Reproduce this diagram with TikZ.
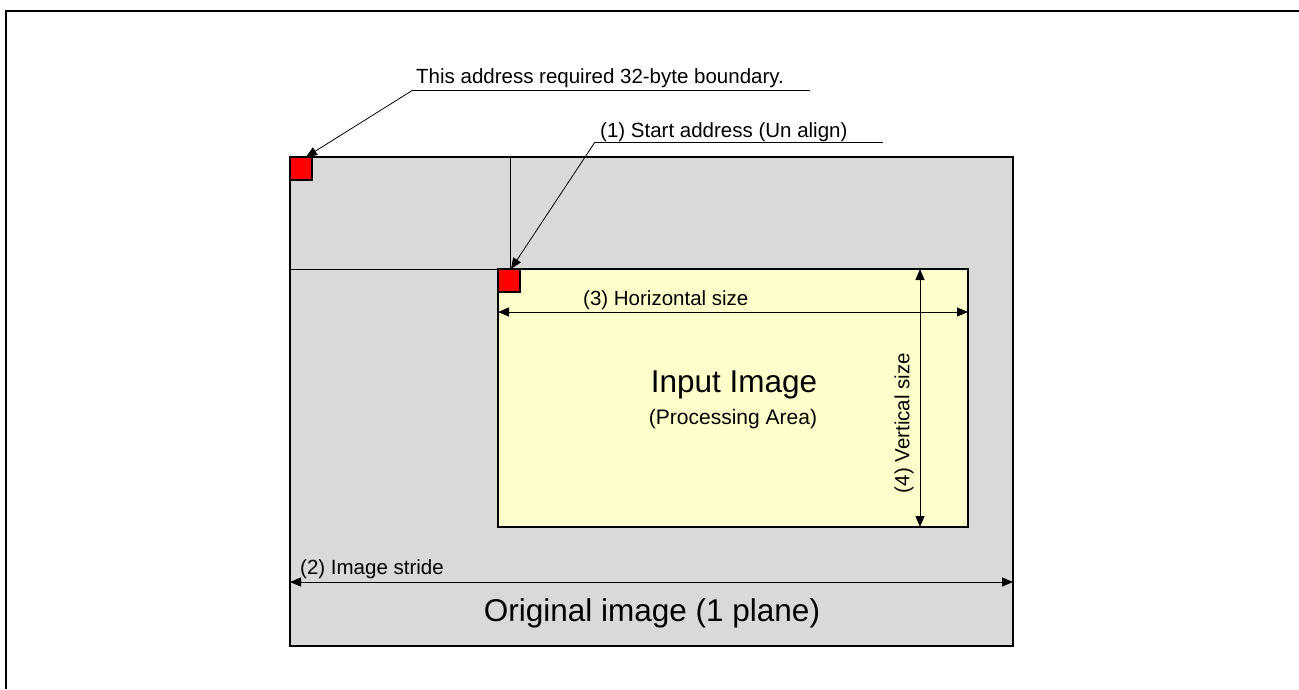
\documentclass[tikz,border=0pt]{standalone}
\usepackage{fontspec}
\setmainfont{Liberation Sans}
\usetikzlibrary{arrows.meta,calc}
\definecolor{greyfill}{HTML}{D9D9D9}
\definecolor{yellowfill}{HTML}{FFFFCC}
\begin{document}
\begin{tikzpicture}[x=1pt,y=-1pt,
 area/.style={draw=black,line width=1.3pt,inner sep=0pt,outer sep=0pt,anchor=north west},
 marker/.style={draw=black,line width=1.3pt,fill=red,inner sep=0pt,outer sep=0pt,minimum width=22pt,minimum height=23pt,anchor=north west},
 lbl/.style={font=\fontsize{20.5}{24}\selectfont,inner sep=0pt,anchor=base west},
 big/.style={font=\fontsize{31.5}{36}\selectfont,inner sep=0pt,anchor=base},
 dim/.style={line width=1pt,{Triangle[length=11pt,width=9pt]}-{Triangle[length=11pt,width=9pt]}},
 lead/.style={line width=0.8pt},
 ptr/.style={line width=0.8pt,-{Triangle[length=11pt,width=9pt]}},
]
\useasboundingbox (0,0) rectangle (1299,689);
% outer frame
\draw[line width=2pt] (6,689) -- (6,11) -- (1299,11);
% areas
\node[area,fill=greyfill,minimum width=723pt,minimum height=489pt] (orig) at (290,157) {};
\node[area,fill=yellowfill,minimum width=470pt,minimum height=258pt] (inp) at (498,269) {};
% guide lines
\coordinate (vtop) at (510,157);
\coordinate (vbot) at (510,269);
\draw[line width=1pt] (orig.west |- inp.north) -- (inp.north west);
\draw[line width=1pt] (vtop) -- (vbot);
% markers
\node[marker] (m1) at (orig.north west) {};
\node[marker] (m2) at (inp.north west) {};
% leader 1
\node[lbl] (t1) at (416,83) {This address required 32-byte boundary.};
\coordinate (u1s) at (413,90);
\coordinate (u1e) at (810,90);
\coordinate (m1tip) at (306,157);
\draw[lead] (u1e) -- (u1s);
\draw[ptr] (u1s) -- (m1tip);
% leader 2
\node[lbl] (t2) at (600,137) {(1) Start address (Un align)};
\coordinate (u2s) at (595,142);
\coordinate (u2e) at (883,142);
\coordinate (m2tip) at (511,269);
\draw[lead] (u2e) -- (u2s);
\draw[ptr] (u2s) -- (m2tip);
% dimensions
\draw[dim] ($(inp.north west)+(0,43)$) -- ($(inp.north east)+(0,43)$);
\node[lbl] (t3) at (583,305) {(3) Horizontal size};
\draw[dim] ($(inp.north east)+(-48,0)$) -- ($(inp.south east)+(-48,0)$);
\node[font=\fontsize{20.5}{24}\selectfont,inner sep=0pt,rotate=90] (t4) at (904,423) {(4) Vertical size};
\draw[dim] ($(orig.south west)+(0,-64)$) -- ($(orig.south east)+(0,-64)$);
\node[lbl] (t5) at (300,574) {(2) Image stride};
% titles
\node[big] (ti) at (734,392) {Input Image};
\node[font=\fontsize{21}{25}\selectfont,inner sep=0pt,anchor=base] (tp) at (733,424) {(Processing Area)};
\node[big] (to) at (652,621) {Original image (1 plane)};
\end{tikzpicture}
\end{document}
